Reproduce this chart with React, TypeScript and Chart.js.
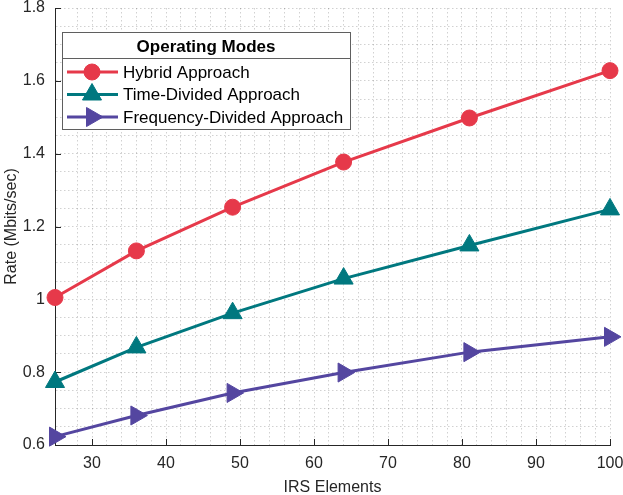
import { useEffect, useRef } from 'react'
import { Chart, registerables } from 'chart.js'
import { drawPoint } from 'chart.js/helpers'

Chart.register(...registerables)

// data
const irsElements = [25, 36, 49, 64, 81, 100]
const hybridRate = [1.005, 1.133, 1.253, 1.377, 1.498, 1.628]
const timeDividedRate = [0.773, 0.868, 0.962, 1.057, 1.148, 1.247]
const freqDividedRate = [0.623, 0.681, 0.743, 0.799, 0.855, 0.897]
const seriesNames = ['Hybrid Approach', 'Time-Divided Approach', 'Frequency-Divided Approach']
const xTicks = [30, 40, 50, 60, 70, 80, 90, 100]
const yTicks = [0.6, 0.8, 1, 1.2, 1.4, 1.6, 1.8]
const legendTitle = 'Operating Modes'

const FONT = "'Liberation Sans', Arial, sans-serif"
const AXIS = '#262626'

const isMajor = (v: number, list: number[]) => list.some(t => Math.abs(t - v) < 1e-6)

// MATLAB-like inward tick marks
const innerTicks = {
  id: 'innerTicks',
  beforeDatasetsDraw(chart: any) {
    const { ctx, chartArea, scales } = chart
    ctx.save()
    ctx.strokeStyle = AXIS
    ctx.lineWidth = 1
    ctx.beginPath()
    for (const v of xTicks) {
      const px = Math.round(scales.x.getPixelForValue(v)) + 0.5
      ctx.moveTo(px, chartArea.bottom)
      ctx.lineTo(px, chartArea.bottom - 6)
    }
    for (const v of yTicks) {
      const py = Math.round(scales.y.getPixelForValue(v)) + 0.5
      ctx.moveTo(chartArea.left, py)
      ctx.lineTo(chartArea.left + 6, py)
    }
    ctx.stroke()
    ctx.restore()
  }
}

// legend box with title, drawn inside the plot area
const boxLegend = {
  id: 'boxLegend',
  afterDraw(chart: any) {
    const { ctx, chartArea } = chart
    const left = Math.round(chartArea.left + 7)
    const top = Math.round(chartArea.top + 24)
    ctx.save()
    ctx.font = `17px ${FONT}`
    const maxW = Math.max(...chart.data.datasets.map((d: any) => ctx.measureText(d.label).width))
    const w = Math.round(61 + maxW + 7)
    const h = 97
    ctx.fillStyle = '#fff'
    ctx.fillRect(left, top, w, h)
    ctx.strokeStyle = '#5f5f5f'
    ctx.lineWidth = 1
    ctx.strokeRect(left + 0.5, top + 0.5, w, h)
    ctx.beginPath()
    ctx.moveTo(left, top + 26.5)
    ctx.lineTo(left + w, top + 26.5)
    ctx.stroke()

    ctx.fillStyle = '#000'
    ctx.font = `bold 17px ${FONT}`
    ctx.textAlign = 'center'
    ctx.textBaseline = 'middle'
    ctx.fillText(legendTitle, left + w / 2, top + 15)

    ctx.font = `17px ${FONT}`
    ctx.textAlign = 'left'
    chart.data.datasets.forEach((d: any, i: number) => {
      const y = top + 40 + i * 22.5
      ctx.strokeStyle = d.borderColor
      ctx.fillStyle = d.borderColor
      ctx.lineWidth = 3
      ctx.beginPath()
      ctx.moveTo(left + 5, y)
      ctx.lineTo(left + 56, y)
      ctx.stroke()
      ctx.lineWidth = 1
      drawPoint(ctx, { pointStyle: d.pointStyle, rotation: d.pointRotation || 0, radius: d.pointRadius, borderWidth: 1 }, left + 30, y)
      ctx.fillStyle = '#000'
      ctx.fillText(d.label, left + 61, y + 1)
    })
    ctx.restore()
  }
}

export default function App() {
  const chartRef = useRef<HTMLCanvasElement>(null)
  const chartInstance = useRef<Chart | null>(null)

  useEffect(() => {
    document.body.style.margin = '0'
    if (!chartRef.current) return
    if (chartInstance.current) chartInstance.current.destroy()

    const series = [hybridRate, timeDividedRate, freqDividedRate]
    const colors = ['#e6394a', '#00787f', '#5446a0']
    const styles = ['circle', 'triangle', 'triangle']
    const radii = [8, 11, 11]
    const rotations = [0, 0, 90]

    chartInstance.current = new Chart(chartRef.current, {
      type: 'line',
      data: {
        datasets: series.map((s, i) => ({
          label: seriesNames[i],
          data: s.map((v, j) => ({ x: irsElements[j], y: v })),
          borderColor: colors[i],
          backgroundColor: colors[i],
          borderWidth: 3,
          pointStyle: styles[i],
          pointRadius: radii[i],
          pointRotation: rotations[i],
          pointBorderWidth: 1,
          pointBackgroundColor: colors[i],
          pointBorderColor: colors[i],
          tension: 0,
          clip: false
        })) as any
      },
      options: {
        animation: false,
        responsive: true,
        maintainAspectRatio: false,
        layout: { autoPadding: false, padding: 0 },
        plugins: {
          legend: { display: false },
          tooltip: { enabled: false }
        },
        scales: {
          x: {
            type: 'linear',
            min: 25,
            max: 100,
            afterFit: (scale: any) => {
              scale.height = 50
              scale.paddingLeft = 0
              scale.paddingRight = 13
            },
            ticks: {
              stepSize: 2,
              autoSkip: false,
              maxTicksLimit: 100,
              maxRotation: 0,
              padding: 11,
              color: AXIS,
              font: { family: FONT, size: 16, lineHeight: 1 },
              callback: (v: any) => (isMajor(Number(v), xTicks) ? String(v) : '')
            },
            grid: { color: 'rgba(0,0,0,0.18)', lineWidth: 1, drawTicks: false },
            border: { display: true, color: AXIS, width: 1, dash: [1.5, 2.5] },
            title: {
              display: true,
              text: 'IRS Elements',
              color: AXIS,
              font: { family: FONT, size: 16, lineHeight: 1 },
              padding: { top: 0, bottom: -1 }
            }
          },
          y: {
            min: 0.6,
            max: 1.8,
            afterFit: (scale: any) => {
              scale.width = 55
              scale.paddingTop = 8
              scale.paddingBottom = 0
            },
            ticks: {
              stepSize: 0.05,
              autoSkip: false,
              maxTicksLimit: 100,
              padding: 10,
              color: AXIS,
              font: { family: FONT, size: 16, lineHeight: 1 },
              callback: (v: any) => (isMajor(Number(v), yTicks) ? String(Number(Number(v).toFixed(2))) : '')
            },
            grid: { color: 'rgba(0,0,0,0.18)', lineWidth: 1, drawTicks: false },
            border: { display: true, color: AXIS, width: 1, dash: [1.5, 2.5] },
            title: {
              display: true,
              text: 'Rate (Mbits/sec)',
              color: AXIS,
              font: { family: FONT, size: 16, lineHeight: 1.2 },
              padding: { top: 2, bottom: 0 }
            }
          }
        }
      },
      plugins: [innerTicks, boxLegend]
    })

    return () => {
      if (chartInstance.current) {
        chartInstance.current.destroy()
        chartInstance.current = null
      }
    }
  }, [])

  return (
    <div style={{ width: 623, height: 495, position: 'relative' }}>
      <canvas ref={chartRef} />
    </div>
  )
}
